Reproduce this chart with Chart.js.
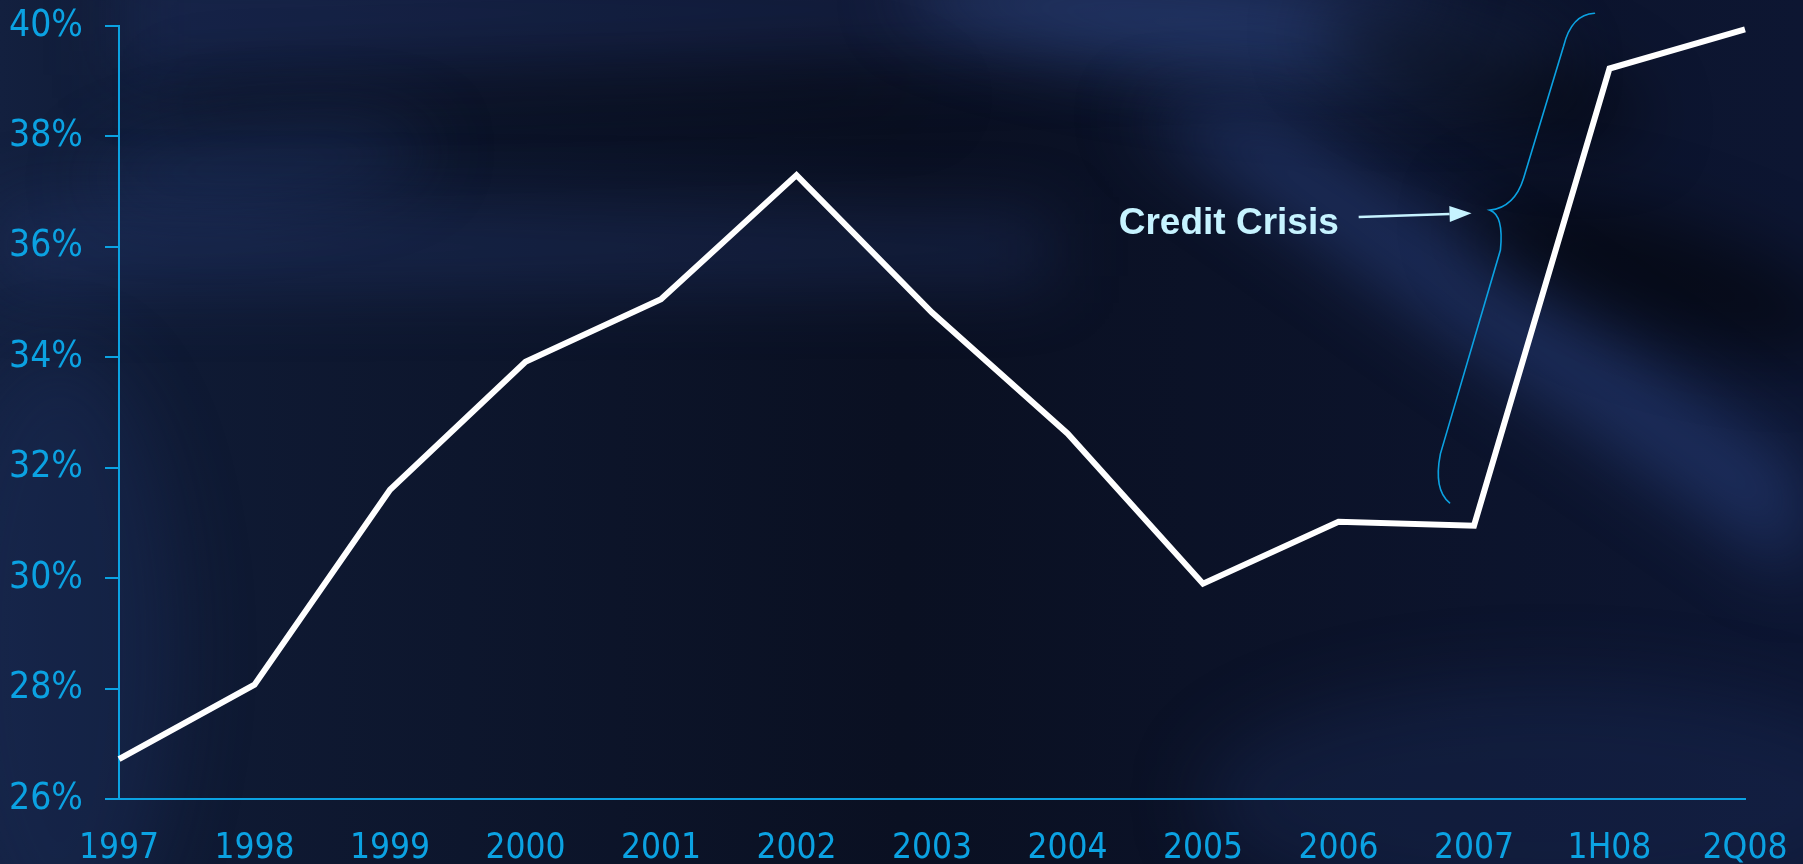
<!DOCTYPE html>
<html>
<head>
<meta charset="utf-8">
<script src="https://cdn.jsdelivr.net/npm/chart.js@4.4.1/dist/chart.umd.min.js"></script>
<style>
  html, body { margin: 0; padding: 0; background: #0a1124; }
  #wrap { width: 1803px; height: 864px; position: relative; }
</style>
</head>
<body>
<div id="wrap"><canvas id="c" width="1803" height="864"></canvas></div>
<script>
// ---- data ----
const categories = ['1997','1998','1999','2000','2001','2002','2003','2004','2005','2006','2007','1H08','2Q08'];
const shareValues = [26.72, 28.07, 31.60, 33.92, 35.05, 37.30, 34.81, 32.62, 29.90, 31.02, 30.95, 39.23, 39.94];
const yTickValues = [26, 28, 30, 32, 34, 36, 38, 40];
const annotationText = 'Credit Crisis';

// annotation anchors in (category index, value) space
const braceTop = [[10.889, 40.23], [10.72, 40.212], [10.661, 39.633]];
const braceUpperEnd = [10.366, 37.244];
const braceTip = [[10.30, 36.72], [10.118, 36.665]];
const braceLower = [[10.221, 36.575], [10.195, 35.942]];
const braceLowerEnd = [9.752, 32.251];
const braceBottom = [[9.70, 31.599], [9.82, 31.364]];
const labelAnchor = [8.19, 36.42];
const arrowFrom = [9.149, 36.54];
const arrowTo = [9.982, 36.61];

const BLUE = '#0ba2e2';
const TICK_FONT = '"DejaVu Sans Condensed", "DejaVu Sans", sans-serif';

const bgPlugin = {
  id: 'bg',
  beforeDraw(chart) {
    const ctx = chart.ctx, W = chart.width, H = chart.height;
    ctx.save();
    const g = ctx.createLinearGradient(0, 0, W, 0);
    g.addColorStop(0, '#13203f');
    g.addColorStop(0.1, '#0f1a34');
    g.addColorStop(0.5, '#0a1022');
    g.addColorStop(1, '#0d1632');
    ctx.fillStyle = g;
    ctx.fillRect(0, 0, W, H);
    ctx.filter = 'blur(35px)';
    // top band
    ctx.fillStyle = 'rgba(40,60,120,0.32)';
    ctx.beginPath();
    ctx.moveTo(120, -40); ctx.lineTo(1450, -40); ctx.lineTo(1400, 40); ctx.lineTo(800, 60); ctx.lineTo(120, 75); ctx.closePath(); ctx.fill();
    // top right bright
    ctx.fillStyle = 'rgba(55,85,155,0.42)';
    ctx.beginPath(); ctx.ellipse(1230, 30, 330, 50, 0.12, 0, Math.PI * 2); ctx.fill();
    // dark band below top
    ctx.fillStyle = 'rgba(0,0,0,0.32)';
    ctx.beginPath();
    ctx.moveTo(180, 88); ctx.lineTo(850, 68); ctx.lineTo(950, 100); ctx.lineTo(180, 128); ctx.closePath(); ctx.fill();
    // lighter bump at upper left
    ctx.fillStyle = 'rgba(40,62,120,0.35)';
    ctx.beginPath(); ctx.ellipse(260, 165, 170, 40, -0.1, 0, Math.PI * 2); ctx.fill();
    // left-middle band
    ctx.fillStyle = 'rgba(42,65,125,0.36)';
    ctx.beginPath();
    ctx.moveTo(0, 205); ctx.lineTo(1050, 220); ctx.lineTo(1050, 280); ctx.lineTo(0, 285); ctx.closePath(); ctx.fill();
    // diagonal streak
    ctx.fillStyle = 'rgba(45,72,140,0.5)';
    ctx.beginPath();
    ctx.moveTo(1130, 110); ctx.lineTo(1270, 110); ctx.lineTo(1803, 470); ctx.lineTo(1803, 580); ctx.closePath(); ctx.fill();
    // dark right
    ctx.fillStyle = 'rgba(0,0,0,0.5)';
    ctx.beginPath(); ctx.ellipse(1660, 275, 200, 55, 0.3, 0, Math.PI * 2); ctx.fill();
    ctx.beginPath(); ctx.ellipse(1480, 75, 170, 45, 0.3, 0, Math.PI * 2); ctx.fill();
    // lighter bottom areas
    ctx.fillStyle = 'rgba(30,50,100,0.3)';
    ctx.beginPath(); ctx.ellipse(1550, 800, 350, 120, 0, 0, Math.PI * 2); ctx.fill();
    ctx.beginPath(); ctx.ellipse(60, 650, 120, 300, 0, 0, Math.PI * 2); ctx.fill();
    ctx.restore();
  }
};

const annoPlugin = {
  id: 'anno',
  afterDatasetsDraw(chart) {
    const ctx = chart.ctx, xs = chart.scales.x, ys = chart.scales.y;
    const P = (p) => [xs.getPixelForValue(p[0]), ys.getPixelForValue(p[1])];
    ctx.save();
    // brace
    ctx.strokeStyle = BLUE;
    ctx.lineWidth = 1.6;
    ctx.lineCap = 'round';
    ctx.beginPath();
    let a = P(braceTop[0]); ctx.moveTo(a[0], a[1]);
    let c = P(braceTop[1]), e = P(braceTop[2]); ctx.quadraticCurveTo(c[0], c[1], e[0], e[1]);
    e = P(braceUpperEnd); ctx.lineTo(e[0], e[1]);
    c = P(braceTip[0]); e = P(braceTip[1]); ctx.quadraticCurveTo(c[0], c[1], e[0], e[1]);
    c = P(braceLower[0]); e = P(braceLower[1]); ctx.quadraticCurveTo(c[0], c[1], e[0], e[1]);
    e = P(braceLowerEnd); ctx.lineTo(e[0], e[1]);
    c = P(braceBottom[0]); e = P(braceBottom[1]); ctx.quadraticCurveTo(c[0], c[1], e[0], e[1]);
    ctx.stroke();
    // arrow
    const f = P(arrowFrom), t = P(arrowTo);
    const ang = Math.atan2(t[1] - f[1], t[0] - f[0]);
    const hl = 22, hw = 8;
    const bx = t[0] - hl * Math.cos(ang), by = t[1] - hl * Math.sin(ang);
    ctx.strokeStyle = '#c6f3ff';
    ctx.fillStyle = '#c6f3ff';
    ctx.lineWidth = 2.5;
    ctx.lineCap = 'butt';
    ctx.beginPath(); ctx.moveTo(f[0], f[1]); ctx.lineTo(bx, by); ctx.stroke();
    ctx.beginPath();
    ctx.moveTo(t[0], t[1]);
    ctx.lineTo(bx - hw * Math.sin(ang), by + hw * Math.cos(ang));
    ctx.lineTo(bx + hw * Math.sin(ang), by - hw * Math.cos(ang));
    ctx.closePath(); ctx.fill();
    // label
    const l = P(labelAnchor);
    ctx.font = 'bold 37px "Liberation Sans", Arial, sans-serif';
    ctx.textAlign = 'center';
    ctx.textBaseline = 'middle';
    ctx.fillText(annotationText, l[0], l[1]);
    ctx.restore();
  }
};

function zeroPad(s) { s.paddingTop = 0; s.paddingBottom = 0; s.paddingLeft = 0; s.paddingRight = 0; }

new Chart(document.getElementById('c'), {
  type: 'line',
  data: {
    labels: categories,
    datasets: [{
      data: shareValues,
      borderColor: '#ffffff',
      borderWidth: 6,
      pointRadius: 0,
      tension: 0,
      borderJoinStyle: 'miter'
    }]
  },
  options: {
    responsive: false,
    animation: false,
    devicePixelRatio: 1,
    layout: { padding: { top: 26, right: 58, left: 0, bottom: 0 } },
    plugins: { legend: { display: false }, tooltip: { enabled: false } },
    scales: {
      x: {
        offset: false,
        grid: { display: true, drawOnChartArea: false, drawTicks: false },
        border: { display: true, color: BLUE, width: 2 },
        ticks: { color: BLUE, font: { family: TICK_FONT, size: 35 }, padding: 29, maxRotation: 0, autoSkip: false },
        afterFit(s) { s.height = 65; zeroPad(s); }
      },
      y: {
        min: 26, max: 40,
        afterBuildTicks(s) { s.ticks = yTickValues.map(v => ({ value: v })); },
        grid: { display: true, drawOnChartArea: false, drawTicks: true, tickLength: 14, color: BLUE, lineWidth: 2 },
        border: { display: true, color: BLUE, width: 2 },
        ticks: { color: BLUE, font: { family: TICK_FONT, size: 37 }, padding: 22, callback: v => v + '%' },
        afterFit(s) { s.width = 119; zeroPad(s); }
      }
    }
  },
  plugins: [bgPlugin, annoPlugin]
});
</script>
</body>
</html>
